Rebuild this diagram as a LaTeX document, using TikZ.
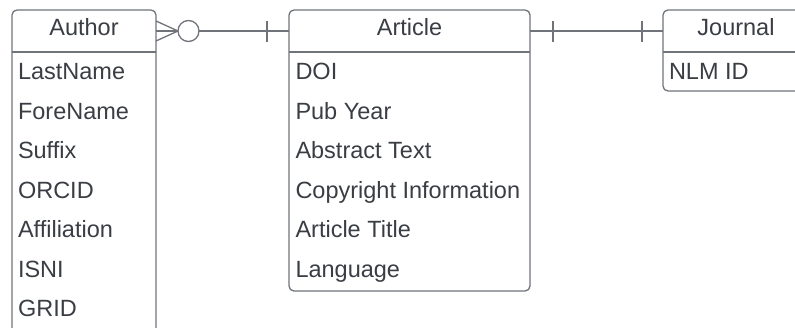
\documentclass[tikz,border=0pt]{standalone}
\usepackage{fontspec}
\setmainfont{Liberation Sans}
\usetikzlibrary{positioning}
\definecolor{linegray}{RGB}{112,116,122}
\definecolor{txtgray}{RGB}{58,62,68}

\begin{document}
\begin{tikzpicture}[
  x=1pt, y=-1pt,
  every node/.style={inner sep=0pt, outer sep=0pt, text=txtgray, font=\fontsize{23.5}{27}\selectfont},
  entity/.style={draw=linegray, line width=1.3pt, rounded corners=5pt, fill=white, anchor=north west},
  hdr/.style={minimum height=42pt, text height=9pt, text depth=0pt, anchor=north},
  attr/.style={anchor=base west},
  rel/.style={draw=linegray, line width=1.3pt},
  ]
  \path[use as bounding box, clip] (0,0) rectangle (795,327);

  % entities
  \node[entity, minimum width=144pt, minimum height=340pt] (Author) at (12,10) {};
  \node[entity, minimum width=241pt, minimum height=281pt] (Article) at (289,10) {};
  \node[entity, minimum width=146pt, minimum height=81pt] (Journal) at (663,10) {};

  \node[hdr, minimum width=144pt] (AuthorH) at (Author.north) {Author};
  \node[hdr, minimum width=241pt] (ArticleH) at (Article.north) {Article};
  \node[hdr, minimum width=146pt] (JournalH) at (Journal.north) {Journal};

  \draw[rel] (AuthorH.south west) -- (AuthorH.south east);
  \draw[rel] (ArticleH.south west) -- (ArticleH.south east);
  \draw[rel] (JournalH.south west) -- (JournalH.south east);

  % attributes
  \foreach \t [count=\i] in {LastName,ForeName,Suffix,ORCID,Affiliation,ISNI,GRID}
    \node[attr] (Au\i) at ({18},{79.5+39.5*(\i-1)}) {\t};
  \foreach \t [count=\i] in {DOI,Pub Year,Abstract Text,Copyright Information,Article Title,Language}
    \node[attr] (Ar\i) at ({295.5},{79.5+39.5*(\i-1)}) {\t};
  \node[attr] (Jo1) at (669,79.5) {NLM ID};

  % relations
  \draw[rel] (AuthorH.east) -- (ArticleH.west);
  \draw[rel] ([yshift=10pt]AuthorH.east) -- ([xshift=22pt]AuthorH.east) -- ([yshift=-10pt]AuthorH.east);
  \draw[rel, fill=white] ([xshift=32.5pt]AuthorH.east) circle (10.5pt);
  \draw[rel] ([xshift=-22pt,yshift=10.5pt]ArticleH.west) -- ([xshift=-22pt,yshift=-10.5pt]ArticleH.west);

  \draw[rel] (ArticleH.east) -- (JournalH.west);
  \draw[rel] ([xshift=23pt,yshift=10.5pt]ArticleH.east) -- ([xshift=23pt,yshift=-10.5pt]ArticleH.east);
  \draw[rel] ([xshift=-21pt,yshift=10.5pt]JournalH.west) -- ([xshift=-21pt,yshift=-10.5pt]JournalH.west);
\end{tikzpicture}
\end{document}
